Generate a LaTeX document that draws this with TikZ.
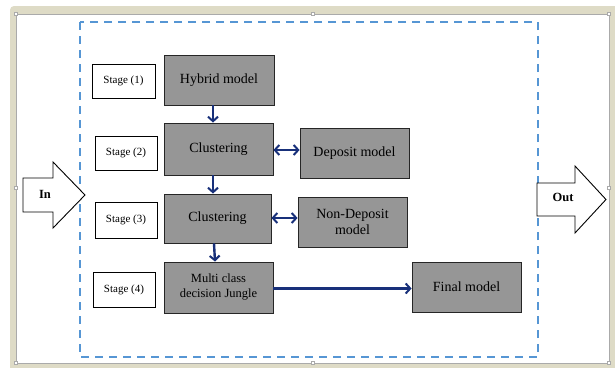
\documentclass[tikz,border=0pt]{standalone}
\usepackage{fontspec}
\setmainfont{Liberation Serif}
\usetikzlibrary{arrows.meta,calc}
\definecolor{frameBeige}{RGB}{222,219,198}
\definecolor{frameLine}{RGB}{170,170,170}
\definecolor{dashBlue}{RGB}{86,150,212}
\definecolor{navy}{RGB}{24,48,122}
\definecolor{boxGray}{RGB}{150,150,150}
\tikzset{
  grayblock/.style={draw=black!85, line width=0.9pt, fill=boxGray, text=black, align=center,
    inner sep=2pt, font=\fontsize{14}{16}\selectfont},
  stagebox/.style={draw=black, line width=0.7pt, fill=white, text=black, align=center,
    font=\fontsize{11}{13}\selectfont},
  barb/.tip={Straight Barb[length=4.5pt,width=10pt,line width=2pt]},
  flow/.style={draw=navy, line width=2.4pt, -barb},
  biflow/.style={draw=navy, line width=2.4pt, barb-barb},
  blockarrow/.style={draw=black, line width=0.9pt, fill=white},
  handle/.style={draw=frameLine, fill=white, line width=0.4pt, minimum size=3pt, inner sep=0pt},
}
\begin{document}
\begin{tikzpicture}[x=1pt,y=-1pt]
\useasboundingbox (0,0) rectangle (615,367);
% window frame
\fill[white] (0,0) rectangle (615,367);
\fill[frameBeige, rounded corners=4pt] (10,6) rectangle (625,375);
\draw[frameLine, fill=white, line width=0.6pt] (16,14) rectangle (609,363);
% selection handles
\foreach \hx/\hy [count=\i] in {16/14, 313/14, 609/14, 16/188, 609/188, 16/363, 313/363, 609/363}
  \node[handle] (h\i) at (\hx,\hy) {};
% dashed boundary
\draw[dashBlue, line width=1.8pt, dash pattern=on 8pt off 6pt] (80,22) rectangle (538,357);

% stage labels
\node[stagebox, minimum width=63pt, minimum height=34pt] (s1) at (123.5,81) {Stage (1)};
\node[stagebox, minimum width=62pt, minimum height=34pt] (s2) at (126,153) {Stage (2)};
\node[stagebox, minimum width=62pt, minimum height=36pt] (s3) at (126,220) {Stage (3)};
\node[stagebox, minimum width=62pt, minimum height=35pt] (s4) at (124,289.5) {Stage (4)};

% process blocks
\node[grayblock, minimum width=110pt, minimum height=50pt] (hyb) at (219,80) {Hybrid model};
\node[grayblock, minimum width=109pt, minimum height=52pt] (cl1) at (218.5,149) {Clustering};
\node[grayblock, minimum width=109pt, minimum height=50pt] (dep) at (354.5,153) {Deposit model};
\node[grayblock, minimum width=107pt, minimum height=49pt] (cl2) at (217.5,218.5) {Clustering};
\node[grayblock, minimum width=109pt, minimum height=50pt] (ndep) at (352.5,222) {Non-Deposit\\model};
\node[grayblock, minimum width=109pt, minimum height=51pt, font=\fontsize{12.5}{15}\selectfont] (mcj) at (218.5,287.5) {Multi class\\decision Jungle};
\node[grayblock, minimum width=109pt, minimum height=50pt] (fin) at (466.5,287) {Final model};

% connectors
\draw[flow] ([xshift=-6pt]hyb.south) -- ([xshift=-5.5pt]cl1.north);
\draw[biflow] ([yshift=-1pt]cl1.east) -- ([yshift=-1pt]cl1.east -| dep.west);
\draw[flow] ([xshift=-5.5pt]cl1.south) -- ([xshift=-4.5pt]cl2.north);
\draw[biflow] ([yshift=0.5pt]cl2.east) -- ([yshift=0.5pt]cl2.east -| ndep.west);
\draw[flow] ([xshift=-3.5pt]cl2.south) -- ([xshift=-3.5pt]mcj.north);
\draw[flow] ([yshift=-1pt]mcj.east) -- ([yshift=-1pt]mcj.east -| fin.west);

% input / output block arrows
\draw[blockarrow] (23,178) -- (53,178) -- (53,162) -- (85,195) -- (53,228) -- (53,212) -- (23,212) -- cycle;
\node[font=\bfseries\fontsize{12.5}{14}\selectfont] (in) at (45,194) {In};
\draw[blockarrow] (537,183) -- (575,183) -- (575,166) -- (606,199.5) -- (575,233) -- (575,216) -- (537,216) -- cycle;
\node[font=\bfseries\fontsize{12.5}{14}\selectfont] (out) at (563,197) {Out};
\end{tikzpicture}
\end{document}
